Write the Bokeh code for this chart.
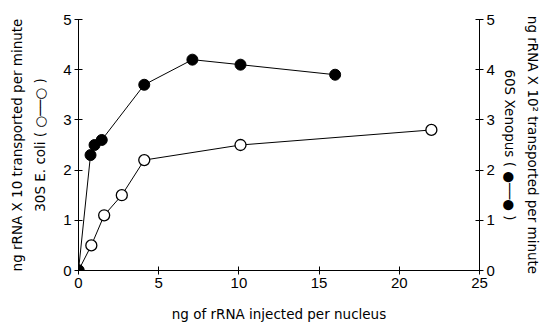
from bokeh.plotting import figure
from bokeh.models import Range1d, LinearAxis, Title, FixedTicker
from bokeh.embed import file_html
from bokeh.resources import INLINE

# Data
ecoli_x = [0, 0.8, 1.6, 2.7, 4.1, 10.1, 22.0]
ecoli_y = [0, 0.5, 1.1, 1.5, 2.2, 2.5, 2.8]
xen_x = [0, 0.75, 1.0, 1.45, 4.1, 7.1, 10.1, 16.0]
xen_y = [0, 2.3, 2.5, 2.6, 3.7, 4.2, 4.1, 3.9]
x_ticks = [0, 5, 10, 15, 20, 25]
y_ticks = [0, 1, 2, 3, 4, 5]

TICK_FONT = "Liberation Sans"
LABEL_FONT = "DejaVu Sans"

p = figure(width=546, height=324, output_backend="svg", toolbar_location=None,
           x_range=Range1d(0, 25), y_range=Range1d(0, 5),
           min_border_left=78, min_border_right=66, min_border_top=19, min_border_bottom=54)
p.extra_y_ranges = {"right": Range1d(0, 5)}
p.grid.visible = False
p.outline_line_color = None
p.background_fill_color = "white"
p.border_fill_color = "white"

p.line(ecoli_x, ecoli_y, line_color="black", line_width=1)
p.scatter(ecoli_x, ecoli_y, size=11, fill_color="white", line_color="black", line_width=1.3)
p.line(xen_x, xen_y, line_color="black", line_width=1, y_range_name="right")
p.scatter(xen_x, xen_y, size=11, fill_color="black", line_color="black", y_range_name="right")

raxis = LinearAxis(y_range_name="right")
p.add_layout(raxis, "right")

for ax in [p.xaxis[0], p.yaxis[0], raxis]:
    ax.ticker = FixedTicker(ticks=x_ticks if ax is p.xaxis[0] else y_ticks)
    ax.minor_tick_line_color = None
    ax.major_tick_in = 4
    ax.major_tick_out = 4
    ax.axis_line_color = "black"
    ax.major_tick_line_color = "black"
    ax.major_label_text_font = TICK_FONT
    ax.major_label_text_font_size = "15px"
    ax.major_label_text_color = "black"
    ax.axis_label_text_font = LABEL_FONT
    ax.axis_label_text_font_size = "13.5px"
    ax.axis_label_text_font_style = "normal"
    ax.axis_label_text_color = "black"
    ax.major_label_standoff = 3

p.xaxis[0].axis_label = "ng of rRNA injected per nucleus"
p.xaxis[0].axis_label_standoff = 15
p.yaxis[0].axis_label = "30S E. coli ( \u25cb\u2500\u2500\u25cb )"
p.yaxis[0].axis_label_standoff = 12
raxis.axis_label = "60S Xenopus ( \u25cf\u2500\u2500\u25cf )"
raxis.axis_label_standoff = 4

p.add_layout(Title(text="ng rRNA X 10 transported per minute", align="center",
                   text_font=LABEL_FONT, text_font_size="13.5px", text_font_style="normal",
                   text_color="black", standoff=10), "left")
p.add_layout(Title(text="ng rRNA X 10\u00b2 transported per minute", align="center",
                   text_font=LABEL_FONT, text_font_size="13.5px", text_font_style="normal",
                   text_color="black", standoff=8), "right")

open("out.html", "w").write(file_html(p, INLINE))
